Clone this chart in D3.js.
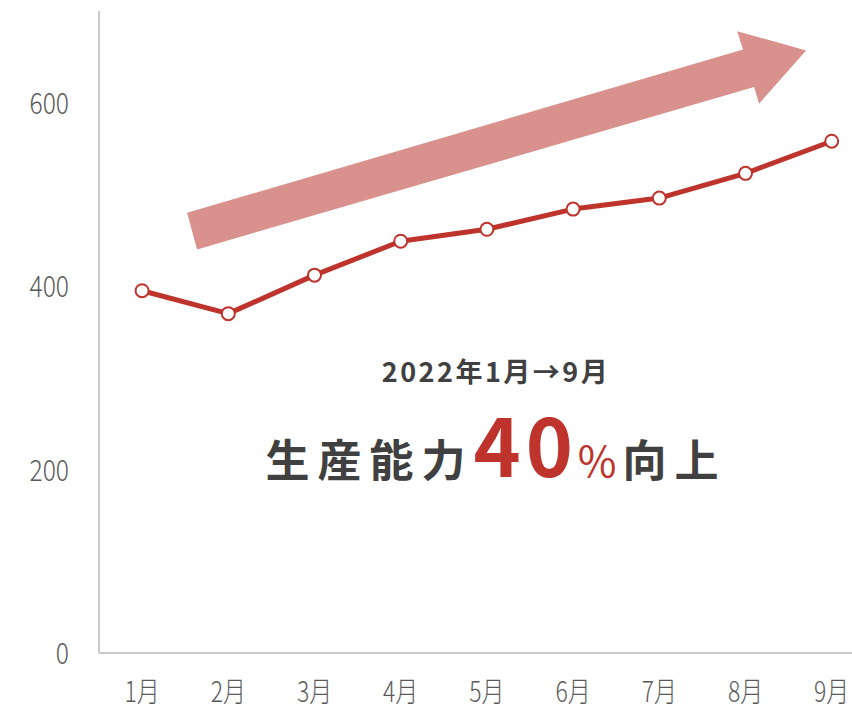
<!DOCTYPE html>
<html><head><meta charset="utf-8">
<script src="https://cdn.jsdelivr.net/npm/d3@7/dist/d3.min.js"></script>
<style>
html,body{margin:0;padding:0;background:#fff;}
svg{display:block;}
</style></head>
<body>
<svg id="chart" width="852" height="710"></svg>
<script>
const months = ["1月","2月","3月","4月","5月","6月","7月","8月","9月"];
const values = [395, 370, 412, 449, 462, 484, 496, 523, 558];
const yTicks = [0, 200, 400, 600];
// annotation arrow outline, in (category position, value) units
const arrowPos = [0.522, 0.638, 7.100, 7.158, 7.703, 6.903, 6.972];
const arrowVal = [480, 440, 617, 599, 657, 678, 658];
const subtitle = "2022年1月→9月";
const headlinePre = "生産能力", headlineNum = "40", headlinePct = "%", headlinePost = "向上";

(function(){
const svg = d3.select("#chart");
const axisFont = "'Noto Sans CJK JP','Noto Sans',sans-serif";
const mLeft = 99, mBottom = 653, mTop = 11;
const step = 86.2;
const squeeze = 0.82;

const x = d3.scaleBand().domain(months).range([mLeft, mLeft + step * months.length]).paddingInner(0).paddingOuter(0);
const xPos = d3.scaleLinear().domain([0, months.length - 1]).range([x(months[0]) + x.bandwidth()/2, x(months[8]) + x.bandwidth()/2]);
const y = d3.scaleLinear().domain([0, 700]).range([mBottom, mTop]);

// axes lines
svg.append("line").attr("x1", mLeft).attr("x2", mLeft).attr("y1", mTop).attr("y2", mBottom)
  .attr("stroke", "#c9c9c9").attr("stroke-width", 2);
svg.append("line").attr("x1", mLeft).attr("x2", 852).attr("y1", mBottom).attr("y2", mBottom)
  .attr("stroke", "#c9c9c9").attr("stroke-width", 2);

// y axis labels
const yAxis = svg.append("g").attr("transform", `translate(${mLeft},0)`)
  .call(d3.axisLeft(y).tickValues(yTicks).tickSize(0).tickPadding(30));
yAxis.select(".domain").remove();
yAxis.selectAll("text").attr("font-family", axisFont).attr("font-weight", 300)
  .attr("font-size", 30).attr("fill", "#595959").attr("dy", "0.36em")
  .attr("x", -30 / squeeze).attr("transform", `scale(${squeeze},1)`);

// x axis labels
const xAxis = svg.append("g").attr("transform", `translate(0,${mBottom})`)
  .call(d3.axisBottom(x).tickSize(0).tickPadding(0));
xAxis.select(".domain").remove();
xAxis.selectAll("text").attr("font-family", axisFont).attr("font-weight", 300)
  .attr("font-size", 28).attr("fill", "#595959").attr("y", 49).attr("dy", null)
  .attr("transform", `scale(${squeeze},1)`);

// arrow annotation
const arrowPts = arrowPos.map((p, i) => [xPos(p), y(arrowVal[i])]);
svg.append("path").attr("d", d3.line()(arrowPts) + "Z").attr("fill", "#d9918d");

// line
svg.append("path").datum(values)
  .attr("d", d3.line().x((d, i) => x(months[i]) + x.bandwidth()/2).y(d => y(d)))
  .attr("fill", "none").attr("stroke", "#be342c").attr("stroke-width", 5).attr("stroke-linejoin", "round");
svg.selectAll("circle.pt").data(values).join("circle").attr("class", "pt")
  .attr("cx", (d, i) => x(months[i]) + x.bandwidth()/2).attr("cy", d => y(d))
  .attr("r", 6.5).attr("fill", "#fff").attr("stroke", "#be342c").attr("stroke-width", 2);

// text annotations
const cx = 496;
svg.append("text").attr("x", cx).attr("y", 382).attr("text-anchor", "middle")
  .attr("font-family", axisFont).attr("font-weight", 700).attr("font-size", 27)
  .attr("letter-spacing", 2.5).attr("fill", "#404040").text(subtitle);

const head = svg.append("text").attr("x", cx).attr("y", 477).attr("text-anchor", "middle")
  .attr("font-family", axisFont).attr("font-weight", 700).attr("fill", "#404040");
head.append("tspan").attr("font-size", 44).attr("letter-spacing", 8).text(headlinePre);
head.append("tspan").attr("font-size", 80).attr("fill", "#be342c").attr("letter-spacing", 5).text(headlineNum);
head.append("tspan").attr("font-size", 42).attr("font-weight", 400).attr("fill", "#be342c").attr("letter-spacing", 6).text(headlinePct);
head.append("tspan").attr("font-size", 44).attr("letter-spacing", 8).text(headlinePost);
})();
</script>
</body></html>
